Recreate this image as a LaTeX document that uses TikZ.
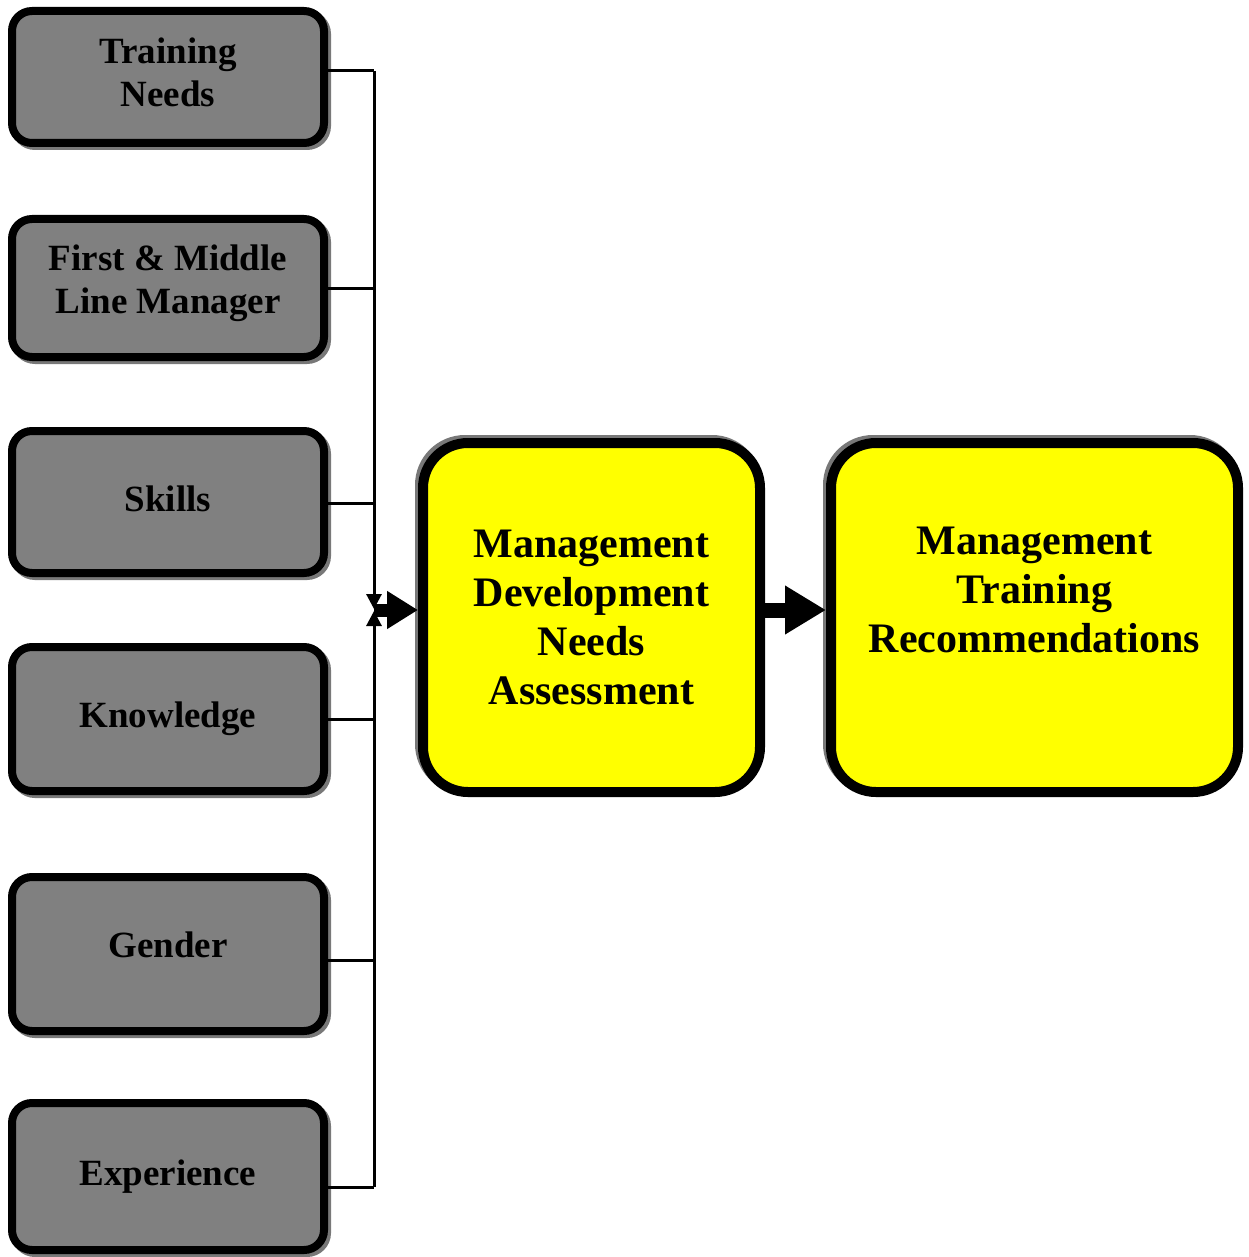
\documentclass[tikz,border=0pt]{standalone}
\usepackage{fontspec}
\setmainfont{Liberation Serif}
\usetikzlibrary{arrows.meta}
\definecolor{boxgray}{RGB}{128,128,128}
\definecolor{shadowgray}{RGB}{120,120,120}
\definecolor{boxyellow}{RGB}{255,255,0}
\begin{document}
\begin{tikzpicture}[x=1pt,y=-1pt,
  factor/.style={draw=black, line width=8pt, fill=boxgray, rounded corners=20pt,
    minimum width=312pt, align=center, inner sep=0pt,
    font=\fontsize{37pt}{43pt}\selectfont\bfseries,
    preaction={draw=shadowgray, line width=8pt, transform canvas={shift={(3pt,-3pt)}}}},
  stage/.style={draw=black, line width=10pt, fill=boxyellow, rounded corners=45pt,
    minimum height=349pt, align=center, inner sep=0pt,
    font=\fontsize{42pt}{49pt}\selectfont\bfseries,
    preaction={draw=shadowgray, line width=10pt, transform canvas={shift={(-3pt,3pt)}}}},
  stagetext/.style={align=center, inner sep=0pt,
    font=\fontsize{42pt}{49pt}\selectfont\bfseries},
  link/.style={line width=3pt},
  feed/.style={line width=3pt, -{Triangle[length=15pt,width=15pt]}},
  smallarrow/.style={line width=13pt, -{Triangle[length=31pt,width=36pt]}},
  bigarrow/.style={line width=15pt, -{Triangle[length=41pt,width=46pt]}},
]
\useasboundingbox (0,0) rectangle (1248,1257);

% input factors
\node[factor, minimum height=132pt, text depth=9pt]  (tn) at (168,77)    {Training\\Needs};
\node[factor, minimum height=138pt, text depth=18pt] (fm) at (168,288)   {First \& Middle\\Line Manager};
\node[factor, minimum height=142pt, text depth=6.5pt](sk) at (168,502)   {Skills};
\node[factor, minimum height=144pt]                  (kn) at (168,719)   {Knowledge};
\node[factor, minimum height=154pt, text depth=18pt] (ge) at (168,954)   {Gender};
\node[factor, minimum height=147pt]                  (ex) at (168,1176.5){Experience};

% stages
\node[stage, minimum width=337pt] (mdna) at (591.5,617.5)
  {Management\\Development\\Needs\\Assessment};
\node[stage, minimum width=407pt] (mtr) at (1034.5,617.5) {};
\node[stagetext] (mtrt) at (1034.5,590) {Management\\Training\\Recommendations};

% collecting bus
\coordinate (bustop) at (374,71);
\coordinate (busbot) at (374,1187);
\coordinate (join)   at (374,610);

\draw[link] ([yshift=6pt]tn.east) -- (bustop);
\draw[link] (fm.east) -- (fm.east -| join);
\draw[link] ([yshift=-1pt]sk.east) -- ([yshift=-1pt]sk.east -| join);
\draw[link] (kn.east) -- (kn.east -| join);
\draw[link] ([yshift=-6pt]ge.east) -- ([yshift=-6pt]ge.east -| join);
\draw[link] ([yshift=-10.5pt]ex.east) -- (busbot);

\draw[feed] (bustop) -- ([yshift=1pt]join);
\draw[feed] (busbot) -- ([yshift=-1pt]join);

% flow arrows
\draw[smallarrow] (join) -- (join -| mdna.west);
\draw[bigarrow] (join -| mdna.east) -- (join -| mtr.west);
\end{tikzpicture}
\end{document}
